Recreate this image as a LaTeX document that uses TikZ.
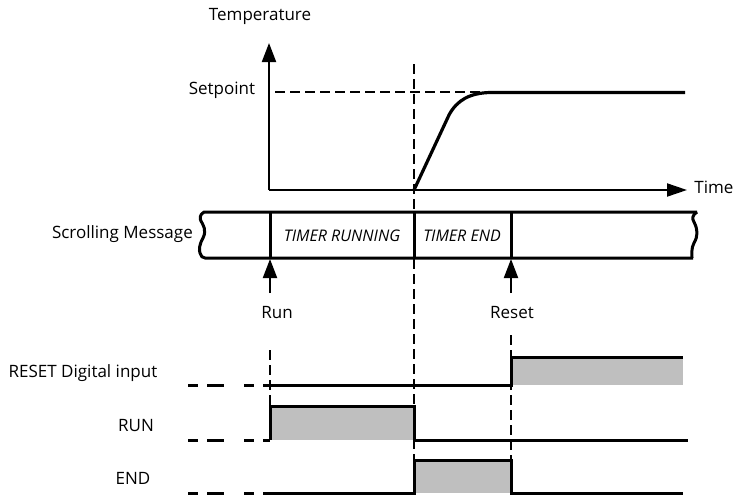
\documentclass[tikz,border=0pt]{standalone}
\usepackage{fontspec}
\setmainfont{Open Sans}
\usetikzlibrary{arrows.meta}

\tikzset{
  sig/.style={line width=3pt},
  pulse/.style={fill=black!25},
  axis/.style={line width=2pt, -{Triangle[length=19pt,width=14pt]}},
  guide/.style={line width=1.5pt, dash pattern=on 10pt off 5pt},
  lead/.style={line width=3pt, dash pattern=on 10pt off 9pt on 17pt off 20pt},
  evtarrow/.style={line width=2pt, -{Triangle[length=19pt,width=14pt]}},
  lbl/.style={font=\fontsize{17}{20}\selectfont, inner sep=0pt},
  msg/.style={font=\fontsize{16}{19}\selectfont\itshape, inner sep=0pt},
}

\begin{document}
\begin{tikzpicture}[x=1pt, y=-1pt]
	\useasboundingbox (0,0) rectangle (736,496);
	
	% Guide lines
	\draw[guide] (414,64) -- (414,460);
	\draw[guide] (275,92) -- (490,92);
	\draw[guide] (270,350) -- (270,406);
	\draw[guide] (511,335) -- (511,460);
	
	% Axes
	\coordinate (O) at (269,190);
	\coordinate (ytop) at (269,43);
	\coordinate (xend) at (687,190);
	\draw[axis] (O) -- (ytop);
	\draw[axis, -{Triangle[length=20pt,width=13pt]}] (O) -- (xend);
	\node[lbl] (temp) at (260,16) {Temperature};
	\node[lbl] (sp) at (222,90) {Setpoint};
	\node[lbl] (time) at (714,187) {Time};
	
	% Response
	\draw[line width=3.2pt, line join=round] (414,190) -- (449,115)
		.. controls (457,100) and (470,93) .. (490,92.5) -- (685,92.5);
	
	% Scrolling message band
	\draw[sig, line join=round] (697,212) -- (204,212)
		.. controls (199,215) and (200,219) .. (201,221)
		.. controls (203,225) and (207,230) .. (203,238)
		.. controls (199,245) and (199,250) .. (200,253)
		.. controls (201,256) and (202,258) .. (205,258) -- (693,258);
	\draw[sig, line join=round] (697,212)
		.. controls (692,215) and (692,219) .. (694,222)
		.. controls (698,230) and (698,236) .. (694,243)
		.. controls (691,248) and (692,255) .. (692,258);
	\foreach \x in {270,414,511}
		\draw[sig] (\x,212) -- (\x,258);
	\node[lbl, anchor=east] (scroll) at (193,234) {Scrolling Message};
	\node[msg] (running) at (342,236) {TIMER RUNNING};
	\node[msg] (tend) at (462,236) {TIMER END};
	
	% Run and Reset
	\node[lbl] (run) at (277,313) {Run};
	\node[lbl] (reset) at (512,313) {Reset};
	\coordinate (run0) at (270,293);
	\coordinate (run1) at (270,259);
	\coordinate (reset0) at (511,293);
	\coordinate (reset1) at (511,259);
	\draw[evtarrow] (run0) -- (run1);
	\draw[evtarrow] (reset0) -- (reset1);
	
	% Digital signals
	\node[lbl] (resetin) at (83,373) {RESET Digital input};
	\node[lbl] (runout) at (136,426) {RUN};
	\node[lbl] (endout) at (133,478) {END};
	
	\fill[pulse] (511,357) rectangle (683,385);
	\fill[pulse] (270,406) rectangle (414,440);
	\fill[pulse] (414,460) rectangle (511,493);
	
	\draw[lead] (188,385) -- (270,385);
	\draw[lead] (188,440) -- (270,440);
	\draw[lead] (188,493) -- (270,493);
	
	\draw[sig] (270,385) -- (511,385) -- (511,357) -- (683,357);
	\draw[sig] (270,440) -- (270,406) -- (414,406) -- (414,440) -- (688,440);
	\draw[sig] (270,493) -- (414,493) -- (414,460) -- (511,460) -- (511,493) -- (683,493);
\end{tikzpicture}
\end{document}
